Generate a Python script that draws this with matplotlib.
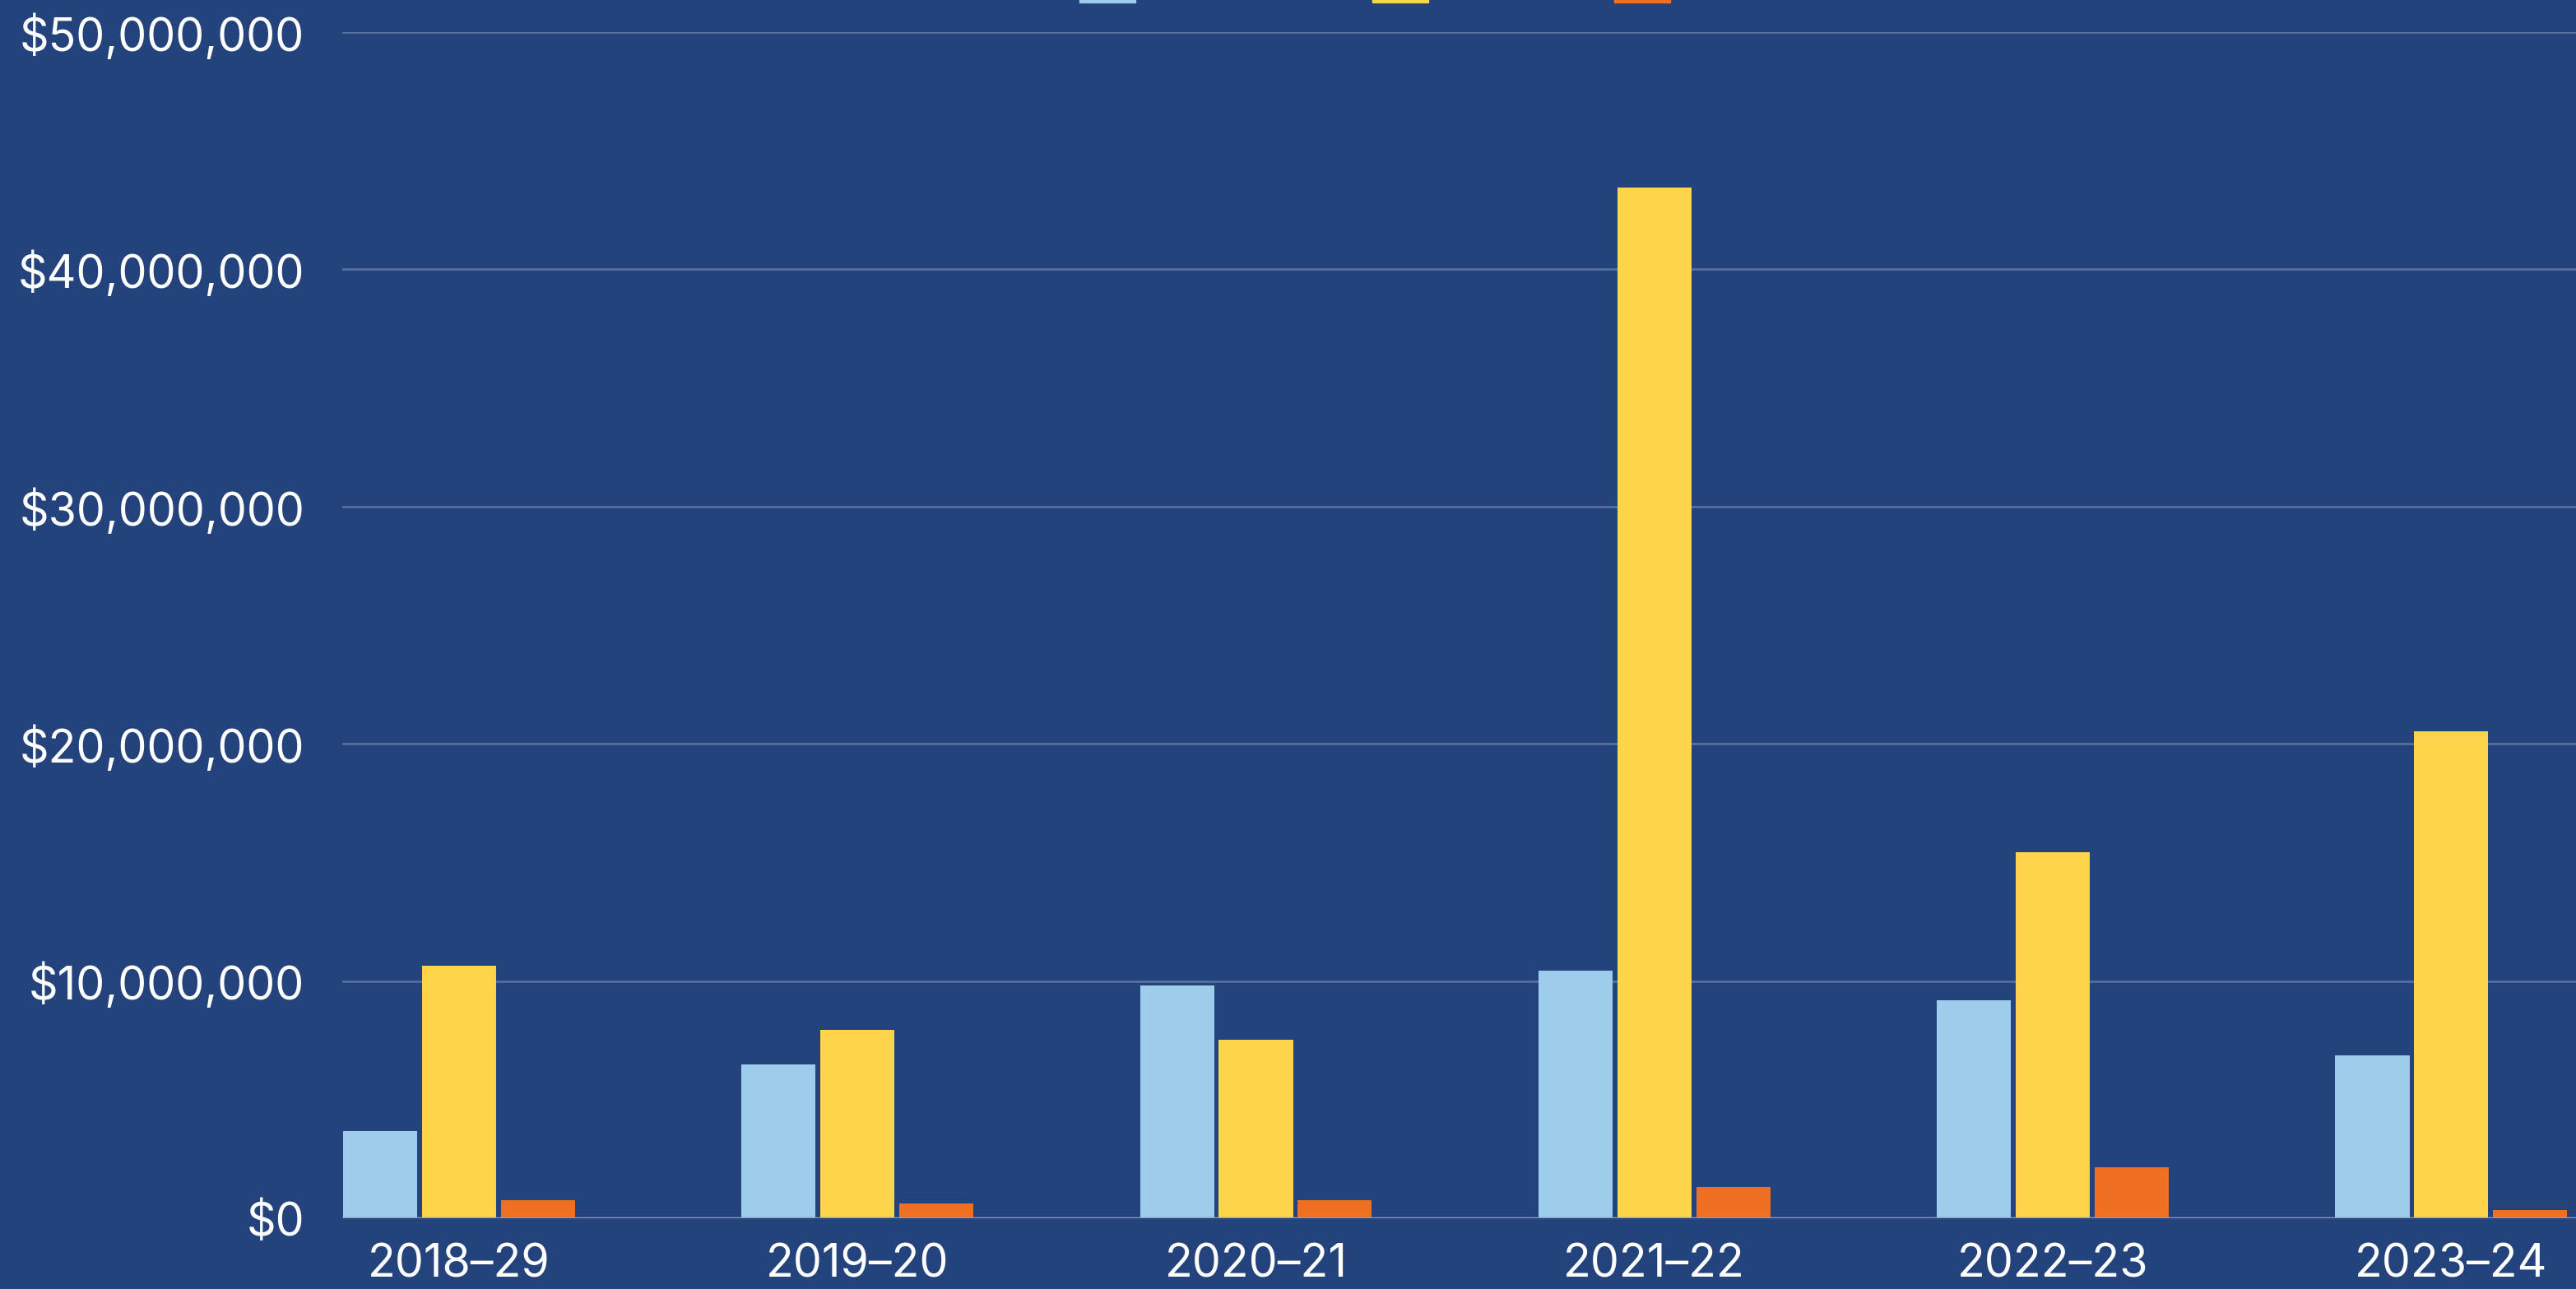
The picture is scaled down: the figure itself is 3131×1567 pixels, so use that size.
import numpy as np
import matplotlib
matplotlib.use('Agg')
import matplotlib.pyplot as plt
from matplotlib.patches import Rectangle
from matplotlib.ticker import FuncFormatter

# data (in dollars)
years = ['2018–29', '2019–20', '2020–21', '2021–22', '2022–23', '2023–24']
series_a = [3.67e6, 6.50e6, 9.82e6, 10.44e6, 9.20e6, 6.85e6]
series_b = [10.65e6, 7.95e6, 7.54e6, 43.43e6, 15.42e6, 20.54e6]
series_c = [0.76e6, 0.62e6, 0.76e6, 1.31e6, 2.14e6, 0.35e6]

BG = '#24427c'
BLUE = '#9dcdeb'
YELLOW = '#fdd44a'
ORANGE = '#f07023'
GRID = '#54709f'

plt.rcParams['font.family'] = ['Inter', 'DejaVu Sans']

W, H = 3131, 1567
fig = plt.figure(figsize=(W / 100, H / 100), dpi=100, facecolor=BG)
ax = fig.add_axes([416 / W, 1 - 1481 / H, 1 - 416 / W, (1481 - 39) / H])
ax.set_facecolor(BG)

x = np.arange(len(years))
step = 0.198
bw = 0.186
ax.bar(x - step, series_a, bw, color=BLUE, zorder=3)
ax.bar(x, series_b, bw, color=YELLOW, zorder=3)
ax.bar(x + step, series_c, bw, color=ORANGE, zorder=3)

ax.set_xlim(-0.293, 5.313)
ax.set_ylim(0, 50e6)
ax.set_yticks(np.arange(0, 50e6 + 1, 10e6))
ax.yaxis.set_major_formatter(FuncFormatter(lambda v, p: '${:,.0f}'.format(v)))
ax.set_xticks(x)
ax.set_xticklabels(years)

ax.grid(axis='y', color=GRID, linewidth=2, zorder=0)
ax.axhline(0, color='#8a9cc2', linewidth=2.5, zorder=4)
for s in ax.spines.values():
    s.set_visible(False)
ax.tick_params(axis='both', length=0, colors='white', labelsize=40)
ax.tick_params(axis='y', pad=33)
ax.tick_params(axis='x', pad=22)

# legend swatches (labels sit above the visible area)
for x0, c in [(1312, BLUE), (1668, YELLOW), (1962, ORANGE)]:
    fig.add_artist(Rectangle((x0 / W, 1 - 3 / H), 68 / W, 30 / H,
                             transform=fig.transFigure, color=c, clip_on=False))

fig.savefig('out.png', dpi=100, facecolor=BG)
